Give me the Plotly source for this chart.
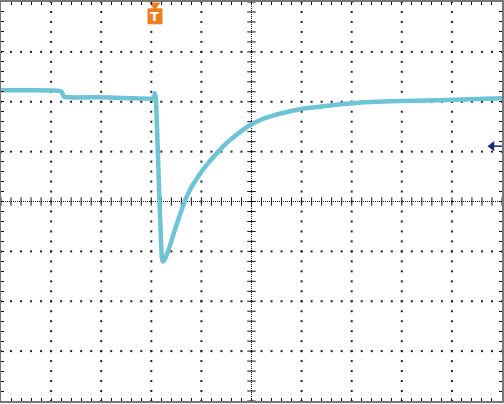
import numpy as np
import plotly.graph_objects as go

time_div = [0.00, 0.58, 1.20, 1.26, 1.98, 2.57, 3.05, 3.07, 3.09, 3.15, 3.21, 3.23, 3.26,
            3.29, 3.33, 3.37, 3.42, 3.47, 3.52, 3.57, 3.62, 3.67, 3.77, 3.89, 4.01, 4.17,
            4.33, 4.45, 4.57, 4.77, 4.97, 5.12, 5.27, 5.52, 5.77, 6.02, 6.27, 6.77,
            7.27, 7.76, 8.26, 8.76, 9.36, 10.00]
volt_div = [2.23, 2.23, 2.21, 2.10, 2.09, 2.07, 2.07, 2.17, 2.07, 0.41, -1.12, -1.20,
            -1.18, -1.11, -1.01, -0.89, -0.73, -0.57, -0.42, -0.27, -0.13, 0.01, 0.23,
            0.43, 0.61, 0.81, 0.99, 1.12, 1.23, 1.39, 1.53, 1.61, 1.67, 1.75, 1.81,
            1.86, 1.89, 1.95, 1.99, 2.01, 2.02, 2.03, 2.05, 2.07]
trigger_time = 3.07
ref_level = 1.11

TRACE = "#6cc4d6"
ORANGE = "#ee7d22"
NAVY = "#1b2a6b"

fig = go.Figure()

# graticule dots
gx, gy = [], []
steps = np.round(np.arange(-4, 4.001, 0.2), 3)
for xv in range(1, 10):
    if xv == 5:
        continue
    gx += [xv] * len(steps)
    gy += list(steps)
hsteps = np.round(np.arange(0, 10.001, 0.2), 3)
for yv in range(-3, 4):
    if yv == 0:
        continue
    gx += list(hsteps)
    gy += [yv] * len(hsteps)
fig.add_trace(go.Scatter(x=gx, y=gy, mode="markers",
                         marker=dict(symbol="square", size=2, color="#222"),
                         hoverinfo="skip", showlegend=False))

# center lines (dense dots) with ticks
fig.add_trace(go.Scatter(x=[0, 10], y=[0, 0], mode="lines",
                         line=dict(color="#111", width=1, dash="1px,1px"),
                         hoverinfo="skip", showlegend=False))
fig.add_trace(go.Scatter(x=[5, 5], y=[-4, 4], mode="lines",
                         line=dict(color="#111", width=1, dash="1px,1px"),
                         hoverinfo="skip", showlegend=False))
fig.add_trace(go.Scatter(x=list(hsteps), y=[0] * len(hsteps), mode="markers",
                         marker=dict(symbol="line-ns", size=6,
                                     line=dict(color="#111", width=1)),
                         hoverinfo="skip", showlegend=False))
fig.add_trace(go.Scatter(x=[5] * len(steps), y=list(steps), mode="markers",
                         marker=dict(symbol="line-ew", size=6,
                                     line=dict(color="#111", width=1)),
                         hoverinfo="skip", showlegend=False))

# waveform
fig.add_trace(go.Scatter(x=time_div, y=volt_div, mode="lines",
                         line=dict(color=TRACE, width=4.5, shape="spline", smoothing=0.4),
                         hoverinfo="skip", showlegend=False))

def px_x(p):
    return (p - 1) / 50.1

def px_y(p):
    return (200.5 - p) / 50.1

# trigger marker
fig.add_trace(go.Scatter(x=[trigger_time], y=[px_y(3)], mode="markers",
                         marker=dict(symbol="triangle-down", size=10, color=ORANGE),
                         cliponaxis=False, hoverinfo="skip", showlegend=False))
fig.add_shape(type="rect", x0=px_x(148), x1=px_x(162), y0=px_y(22), y1=px_y(7),
              fillcolor=ORANGE, line=dict(color=ORANGE, width=1))
fig.add_annotation(x=trigger_time, y=px_y(14.5), text="<b>T</b>", showarrow=False,
                   font=dict(color="white", size=13, family="DejaVu Sans"))

# reference level marker at right
fig.add_trace(go.Scatter(x=[px_x(492)], y=[ref_level], mode="markers",
                         marker=dict(symbol="triangle-left", size=9, color=NAVY),
                         cliponaxis=False, hoverinfo="skip", showlegend=False))
fig.add_shape(type="line", x0=px_x(494), x1=px_x(502), y0=ref_level, y1=ref_level,
              line=dict(color=NAVY, width=1.5))

axis_common = dict(showgrid=False, zeroline=False, showticklabels=False,
                   showline=True, linecolor="#777", linewidth=2, mirror="ticks",
                   ticks="inside", ticklen=3, tickcolor="#111", tickwidth=1)
fig.update_xaxes(range=[0, 10], dtick=0.2, tick0=0, **axis_common)
fig.update_yaxes(range=[-4, 4], dtick=0.2, tick0=0, **axis_common)

fig.update_layout(width=504, height=404, margin=dict(l=1, r=2, t=0, b=3),
                  paper_bgcolor="white", plot_bgcolor="white")

fig.write_html("out.html", config={"displayModeBar": False},
               post_script="document.body.style.margin='0';"
                           "document.body.style.overflow='hidden';")
